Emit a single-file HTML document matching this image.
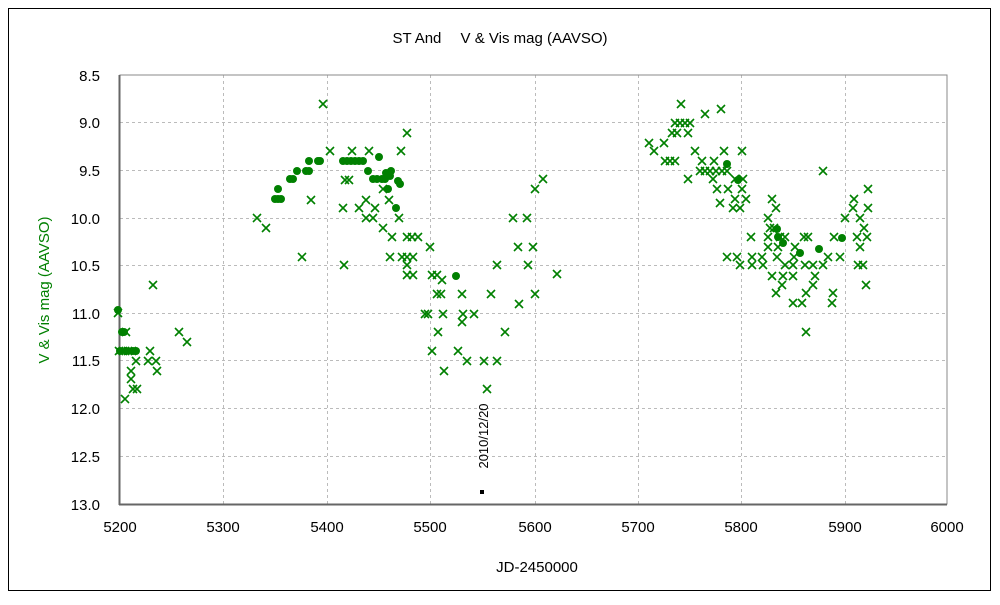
<!DOCTYPE html>
<html><head><meta charset="utf-8"><style>
body{margin:0;background:#fff;}
svg text{font-family:"Liberation Sans","Noto Sans CJK JP",sans-serif;}
</style></head><body>
<svg id="s" width="1000" height="600" xmlns="http://www.w3.org/2000/svg">
<rect x="0" y="0" width="1000" height="600" fill="#fff"/>
<rect x="8.5" y="8.5" width="982" height="582" fill="none" stroke="#000" stroke-width="1"/>
<g stroke="#bbb" stroke-dasharray="3,3" stroke-width="1">
<line x1="120" x2="947" y1="122.5" y2="122.5"/><line x1="120" x2="947" y1="170.5" y2="170.5"/>
<line x1="120" x2="947" y1="218.5" y2="218.5"/><line x1="120" x2="947" y1="265.5" y2="265.5"/>
<line x1="120" x2="947" y1="313.5" y2="313.5"/><line x1="120" x2="947" y1="360.5" y2="360.5"/>
<line x1="120" x2="947" y1="408.5" y2="408.5"/><line x1="120" x2="947" y1="456.5" y2="456.5"/>
<line y1="75" y2="504" x1="223.5" x2="223.5"/><line y1="75" y2="504" x1="327.5" x2="327.5"/>
<line y1="75" y2="504" x1="430.5" x2="430.5"/><line y1="75" y2="504" x1="535.5" x2="535.5"/>
<line y1="75" y2="504" x1="638.5" x2="638.5"/><line y1="75" y2="504" x1="741.5" x2="741.5"/>
<line y1="75" y2="504" x1="845.5" x2="845.5"/>
</g>
<rect x="120" y="75" width="827" height="429" fill="none" stroke="#888" stroke-width="1"/>
<line x1="119.5" y1="75" x2="119.5" y2="505" stroke="#666" stroke-width="2"/>
<line x1="119" y1="504.5" x2="947" y2="504.5" stroke="#666" stroke-width="2"/>
<text x="500" y="43" font-size="15" text-anchor="middle" fill="#000">ST And　 V &amp; Vis mag (AAVSO)</text>
<g font-size="15" text-anchor="end" fill="#000">
<text x="100" y="81">8.5</text><text x="100" y="128">9.0</text><text x="100" y="176">9.5</text>
<text x="100" y="224">10.0</text><text x="100" y="271">10.5</text><text x="100" y="319">11.0</text>
<text x="100" y="366">11.5</text><text x="100" y="414">12.0</text><text x="100" y="462">12.5</text>
<text x="100" y="510">13.0</text>
</g>
<g font-size="15" text-anchor="middle" fill="#000">
<text x="120" y="532">5200</text><text x="223" y="532">5300</text><text x="327" y="532">5400</text>
<text x="430" y="532">5500</text><text x="535" y="532">5600</text><text x="638" y="532">5700</text>
<text x="741" y="532">5800</text><text x="845" y="532">5900</text><text x="947" y="532">6000</text>
</g>
<text x="537" y="572" font-size="15" text-anchor="middle" fill="#000">JD-2450000</text>
<text transform="translate(49,290) rotate(-90)" font-size="15" text-anchor="middle" fill="#008000">V &amp; Vis mag (AAVSO)</text>
<text transform="translate(488,436) rotate(-90)" font-size="13" text-anchor="middle" fill="#000">2010/12/20</text>
<rect x="480" y="490" width="4" height="4" fill="#000"/>
<g id="pts"></g>
</svg>
<script>
var X=[[118,313],[126,332],[119,351],[123,351],[128,351],[132,351],[150,351],[136,361],[148,361],[156,361],[131,371],[131,379],[157,371],[133,389],[137,389],[125,399],[153,285],[179,332],[187,342],
[257,218],[266,228],[302,257],[311,200],[323,104],[330,151],[352,151],[369,151],[401,151],[407,133],[345,180],[349,180],[343,208],[359,208],[366,200],[375,208],[366,218],[373,218],[383,228],[389,200],[383,189],[399,218],[392,237],[407,237],[412,237],[418,237],[390,257],[402,257],[407,257],[413,257],[407,265],[407,275],[413,275],[344,265],[430,247],[432,275],[437,275],[442,280],[437,294],[441,294],[462,294],[491,294],[425,314],[428,314],[443,314],[463,314],[474,314],[462,322],[438,332],[505,332],[432,351],[458,351],[467,361],[484,361],[497,361],[444,371],[487,389],[513,218],[527,218],[518,247],[533,247],[497,265],[528,265],[535,189],[543,179],[535,294],[519,304],[557,274],
[681,104],[705,114],[721,109],[675,123],[680,123],[685,123],[690,123],[672,133],[677,133],[688,133],[649,143],[664,143],[654,151],[695,151],[724,151],[742,151],[665,161],[670,161],[675,161],[702,161],[714,161],[700,171],[705,171],[710,171],[716,171],[722,171],[727,171],[688,179],[713,179],[735,179],[743,179],[717,189],[728,189],[742,189],[720,203],[735,199],[746,199],[733,208],[740,208],[823,171],[868,189],[854,199],[853,208],[868,208],[772,199],[776,208],[768,218],[845,218],[860,218],[770,228],[774,228],[864,228],[751,237],[768,237],[780,237],[785,237],[804,237],[808,237],[834,237],[857,237],[867,237],[768,247],[778,247],[795,247],[860,247],[727,257],[737,257],[752,257],[762,257],[777,257],[794,257],[828,257],[840,257],[740,265],[752,265],[763,265],[785,265],[793,265],[805,265],[813,265],[823,265],[858,265],[863,265],[772,276],[783,276],[793,276],[815,276],[782,285],[813,285],[866,285],[776,293],[806,293],[833,293],[793,303],[802,303],[832,303],[806,332]];
var D=[[118,310],[122,332],[124,332],[120,351],[126,351],[133,351],[136,351],
[275,199],[278,199],[281,199],[278,189],[290,179],[293,179],[297,171],[306,171],[309,171],[309,161],[318,161],[320,161],[343,161],[347,161],[351,161],[355,161],[359,161],[363,161],[379,157],[368,171],[373,179],[377,179],[382,179],[385,179],[386,173],[391,171],[390,176],[398,181],[400,184],[388,189],[396,208],[456,276],
[727,164],[738,180],[777,229],[778,237],[783,243],[800,253],[819,249],[842,238]];
var g=document.getElementById('pts'),h='';
X.forEach(function(p){var a=p[0],b=p[1];h+='<path d="M'+(a-4)+' '+(b-4)+'L'+(a+4)+' '+(b+4)+'M'+(a+4)+' '+(b-4)+'L'+(a-4)+' '+(b+4)+'" stroke="#008000" stroke-width="1.6" fill="none"/>';});
D.forEach(function(p){h+='<circle cx="'+p[0]+'" cy="'+p[1]+'" r="4" fill="#008000"/>';});
g.innerHTML=h;
</script>
</body></html>
